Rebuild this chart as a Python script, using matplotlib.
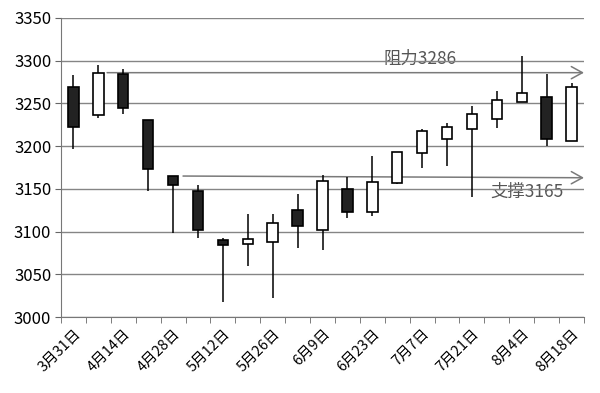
import matplotlib
matplotlib.use("Agg")
import matplotlib.pyplot as plt
from matplotlib.patches import Rectangle

plt.rcParams['font.family'] = ['Noto Sans CJK SC', 'DejaVu Sans']

dates = ["3月31日", "4月7日", "4月14日", "4月21日", "4月28日", "5月5日", "5月12日",
         "5月19日", "5月26日", "6月2日", "6月9日", "6月16日", "6月23日", "6月30日",
         "7月7日", "7月14日", "7月21日", "7月28日", "8月4日", "8月11日", "8月18日"]
opens  = [3269, 3236, 3285, 3231, 3165, 3148, 3090, 3086, 3088, 3125, 3102, 3150, 3123,
          3157, 3192, 3208, 3220, 3232, 3252, 3257, 3206]
closes = [3222, 3286, 3245, 3173, 3154, 3102, 3084, 3091, 3110, 3106, 3159, 3123, 3158,
          3193, 3218, 3222, 3238, 3254, 3262, 3208, 3269]
highs  = [3283, 3295, 3290, 3231, 3165, 3155, 3093, 3120, 3120, 3144, 3166, 3164, 3188,
          3193, 3220, 3227, 3247, 3264, 3306, 3285, 3274]
lows   = [3197, 3233, 3238, 3147, 3098, 3092, 3017, 3060, 3022, 3081, 3079, 3116, 3118,
          3156, 3174, 3177, 3140, 3221, 3252, 3200, 3206]

resist_val = 3286
support_val = 3165
resist_label = "阻力3286"
support_label = "支撑3165"

fig = plt.figure(figsize=(6, 3.93), dpi=100)
ax = fig.add_axes([61/600, 1-317/393, (584-61)/600, (317-18)/393])

ax.set_ylim(3000, 3350)
ax.set_xlim(-0.5, len(dates) - 0.5)
ax.set_yticks(range(3000, 3351, 50))
ax.yaxis.grid(True, color='#858585', lw=1)
ax.set_axisbelow(True)

w = 0.42
for i, (o, c, h, l) in enumerate(zip(opens, closes, highs, lows)):
    ax.plot([i, i], [l, h], color='black', lw=1.1, zorder=2, solid_capstyle='butt')
    fc = 'white' if c >= o else '#222222'
    bot = min(o, c)
    ax.add_patch(Rectangle((i - w/2, bot), w, abs(c - o), facecolor=fc,
                           edgecolor='black', lw=1.2, zorder=3))

# resistance / support arrows
ax.annotate("", xy=(20.5, resist_val), xytext=(1.35, resist_val),
            arrowprops=dict(arrowstyle='->,head_length=0.4,head_width=0.22',
                            color='#7a7a7a', lw=1.1, mutation_scale=20,
                            shrinkA=0, shrinkB=0), zorder=1, annotation_clip=False)
ax.annotate("", xy=(20.5, support_val - 2), xytext=(4.4, support_val),
            arrowprops=dict(arrowstyle='->,head_length=0.4,head_width=0.22',
                            color='#7a7a7a', lw=1.1, mutation_scale=20,
                            shrinkA=0, shrinkB=0), zorder=1, annotation_clip=False)
ax.text(13.9, 3302, resist_label, ha='center', va='center', fontsize=12.5,
        color='#555555', zorder=0)
ax.text(18.2, 3147, support_label, ha='center', va='center', fontsize=12.5,
        color='#555555', zorder=0)

# ticks
ax.set_xticks(range(0, len(dates), 2))
ax.set_xticklabels(dates[::2], rotation=45, ha='right', va='top',
                   rotation_mode='anchor', fontsize=10.5)
ax.set_xticks([i - 0.5 for i in range(len(dates) + 1)], minor=True)
ax.tick_params(axis='x', which='major', length=0, pad=7)
ax.tick_params(axis='x', which='minor', length=4, color='#666666', direction='out')
ax.tick_params(axis='y', length=4, color='#666666', labelsize=12, pad=3)

for s in ['top', 'right']:
    ax.spines[s].set_visible(False)
for s in ['left', 'bottom']:
    ax.spines[s].set_color('#777777')

fig.savefig("out.png", dpi=100)
